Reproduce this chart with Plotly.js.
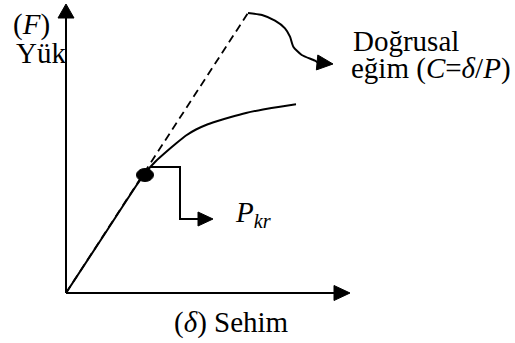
<!DOCTYPE html>
<html><head><meta charset="utf-8">
<script src="https://cdn.plot.ly/plotly-3.0.1.min.js"></script>
<style>html,body{margin:0;padding:0;background:#fff}#chart{width:515px;height:343px}</style>
</head><body><div id="chart"></div><script>
// ---- data (diagram units: deflection δ horizontally, load F vertically) ----
const deflection = [0, 40, 70, 80, 90, 100, 110, 120, 130, 140, 150, 165, 180, 197, 214, 230];
const load       = [0, 61, 107, 121, 132, 141, 149.5, 157.5, 163.5, 168, 171.5, 176, 180, 183.5, 186.3, 188.7];
const linearDeflection = [0, 182];
const linearLoad       = [0, 280];
const criticalDeflection = [79];
const criticalLoad       = [118];
const pkrLeaderX = [84, 114, 114, 147];
const pkrLeaderY = [126, 126, 74, 74];
const slopeLeaderX = [182, 196, 209, 219, 224, 227.3, 235.7, 249, 251.5, 267];
const slopeLeaderY = [280, 278, 272.3, 264.7, 256.3, 246.3, 238, 232.3, 230.5, 229];
const xAxisEnd = 284;
const yAxisEnd = 289;
const labelF = '(<i>F</i>)';
const labelYuk = 'Yük';
const labelSehim = '(<i>δ</i>) Sehim';
const labelLinear1 = 'Doğrusal';
const labelLinear2 = 'eğim (<i>C</i>=<i>δ</i>/<i>P</i>)';
const labelPkr = '<i>P</i><sub><i>kr</i></sub>';

// ---- helpers ----
function head(fx, fy, tx, ty, L, W) {
  const dx = tx - fx, dy = ty - fy, d = Math.hypot(dx, dy);
  const ux = dx / d, uy = dy / d;
  const bx = tx - L * ux, by = ty - L * uy;
  const nx = -uy, ny = ux;
  return {
    type: 'scatter', mode: 'lines', fill: 'toself', fillcolor: '#000',
    x: [tx, bx + W * nx, bx - W * nx, tx], y: [ty, by + W * ny, by - W * ny, ty],
    line: {color: '#000', width: 1}, hoverinfo: 'skip'
  };
}
function line(x, y, opts) {
  return Object.assign({type: 'scatter', mode: 'lines', x: x, y: y,
    line: {color: '#000', width: 2}, hoverinfo: 'skip'}, opts || {});
}
const n = slopeLeaderX.length;
const traces = [
  line([0, 0], [0, yAxisEnd - 6]),
  line([0, xAxisEnd - 6], [0, 0]),
  head(0, 0, 0, yAxisEnd, 14, 8),
  head(0, 0, xAxisEnd, 0, 16, 7.5),
  line(linearDeflection, linearLoad, {line: {color: '#000', width: 1.8, dash: '8px,5px'}}),
  line(deflection, load, {line: {color: '#000', width: 2, shape: 'spline', smoothing: 0.5}}),
  line(pkrLeaderX.slice(0, 3).concat([pkrLeaderX[3] - 8]), pkrLeaderY),
  head(pkrLeaderX[2], pkrLeaderY[2], pkrLeaderX[3], pkrLeaderY[3], 15, 7),
  line(slopeLeaderX.slice(0, n - 1), slopeLeaderY.slice(0, n - 1), {line: {color: '#000', width: 2, shape: 'spline', smoothing: 0.6}}),
  head(slopeLeaderX[n - 2], slopeLeaderY[n - 2], slopeLeaderX[n - 1], slopeLeaderY[n - 1], 16, 7.5)
];

function serif() { return {family: 'Liberation Serif, serif', size: 29, color: '#000'}; }
function ann(text, x, y) {
  return {text: text, x: x, y: y, xref: 'x', yref: 'y', showarrow: false,
    xanchor: 'left', yanchor: 'middle', font: serif()};
}
const layout = {
  width: 515, height: 343,
  margin: {l: 0, r: 0, t: 0, b: 0},
  paper_bgcolor: '#fff', plot_bgcolor: '#fff',
  font: serif(),
  showlegend: false,
  xaxis: {range: [-66, 449], visible: false, fixedrange: true},
  yaxis: {range: [-50, 293], visible: false, fixedrange: true},
  shapes: [{type: 'circle', xref: 'x', yref: 'y',
    x0: criticalDeflection[0] - 8.5, x1: criticalDeflection[0] + 8.5,
    y0: criticalLoad[0] - 6.5, y1: criticalLoad[0] + 6.5,
    fillcolor: '#000', line: {color: '#000', width: 1}}],
  annotations: [
    ann(labelF, -55, 269),
    ann(labelYuk, -52, 240),
    ann(labelLinear1, 285, 252),
    ann(labelLinear2, 283, 225),
    ann(labelSehim, 106, -29),
    ann(labelPkr, 167, 79)
  ]
};
Plotly.newPlot('chart', traces, layout, {displayModeBar: false, staticPlot: true});
</script></body></html>
